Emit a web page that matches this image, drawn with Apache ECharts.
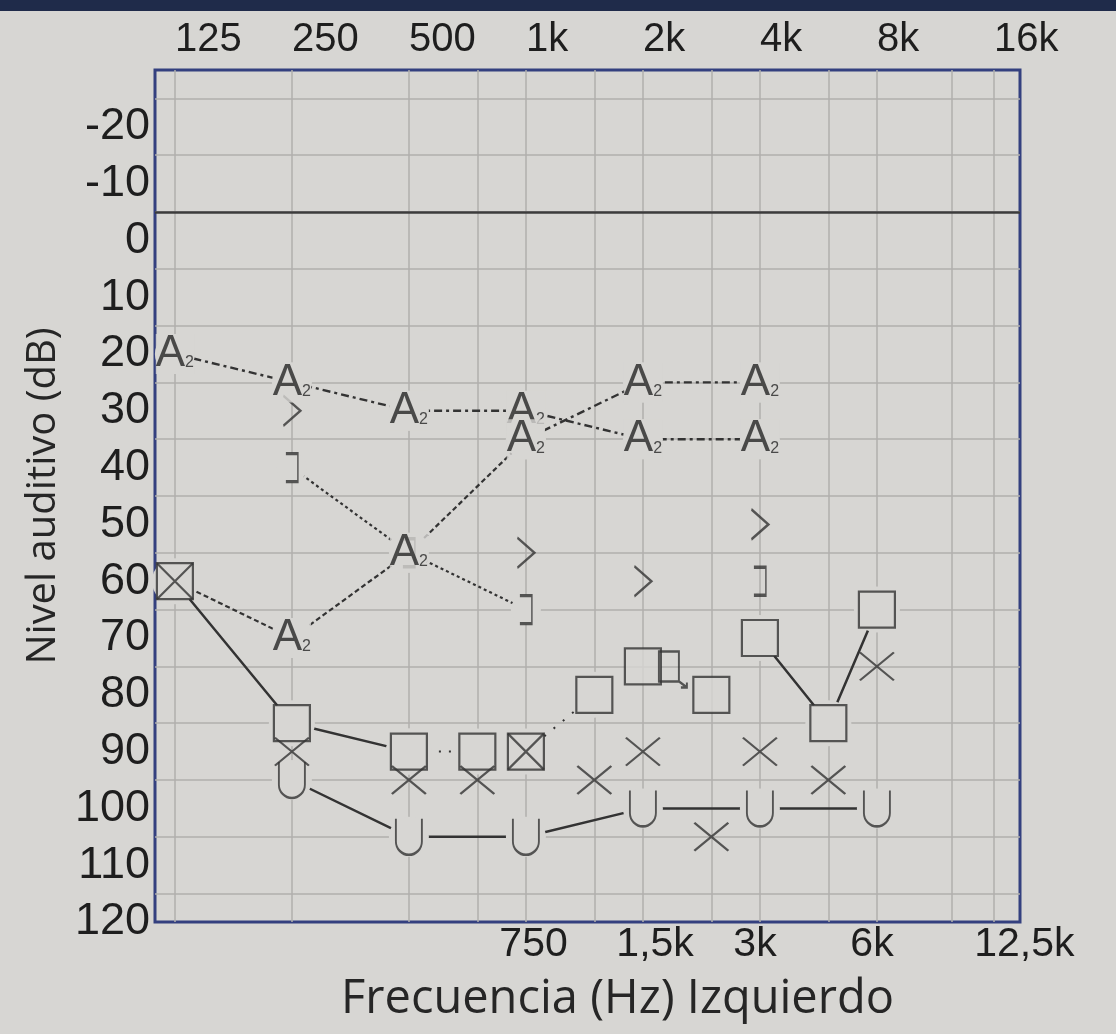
<!DOCTYPE html>
<html>
<head>
<meta charset="utf-8">
<title>Audiograma - Izquierdo</title>
<script src="https://cdn.jsdelivr.net/npm/echarts@6/dist/echarts.min.js"></script>
<style>
  html, body { margin: 0; padding: 0; background: #d7d6d3; }
  #main { width: 1116px; height: 1034px; }
</style>
</head>
<body>
<div id="main"></div>
<script>
// frecuencias (Hz) donde hay marcas
const frecuencias = [125, 250, 500, 750, 1000, 1500, 2000, 3000, 4000, 6000, 8000];

// etiquetas del eje de frecuencias
const ticksArriba = [125, 250, 500, 1000, 2000, 4000, 8000, 16000];
const textosArriba = ['125', '250', '500', '1k', '2k', '4k', '8k', '16k'];
const ticksAbajo = [750, 1500, 3000, 6000, 12500];
const textosAbajo = ['750', '1,5k', '3k', '6k', '12,5k'];
const lineasVerticales = [125, 250, 500, 750, 1000, 1500, 2000, 3000, 4000, 6000, 8000, 12500, 16000];
const lineasHorizontales = [-25, -15, -5, 5, 15, 25, 35, 45, 55, 65, 75, 85, 95, 105, 115];

// via aerea (dB), una por frecuencia
const cuadrados = [60, 85, 90, 90, 90, 80, 75, 80, 70, 85, 65];
const cruces = [60, 90, 95, 95, 90, 95, 90, 105, 90, 95, 75];

// via osea
const freqU = [250, 500, 1000, 2000, 4000, 8000];
const oseaU = [95, 105, 105, 100, 100, 100];

const freqMayor = [250, 1000, 2000, 4000];
const mayor = [30, 55, 60, 50];

const freqCorchete = [250, 500, 1000, 4000];
const corchete = [40, 55, 65, 60];

// campo libre / audifono (A2)
const freqA = [125, 250, 500, 1000, 2000, 4000];
const aSuperior = [20, 25, 30, 30, 35, 35];
const aInferior = [60, 70, 55, 35, 25, 25];

// sin respuesta
const freqSinResp = [2000];
const sinResp = [75];

const PAPEL = '#d7d6d3';
const TINTA = '#333333';
const AZUL = '#34407f';
const FUENTE = 'Liberation Sans';
const XMIN = -0.17;
const XMAX = 7.223;

const oct = f => Math.log2(f / 125);
const pts = (fs, vs) => fs.map((f, i) => [oct(f), vs[i]]);
const nombre = (lista, textos) => v => {
  const i = lista.findIndex(f => Math.abs(oct(f) - v) < 1e-6);
  return i < 0 ? '' : textos[i];
};

const SYM = {
  cuadro: 'path://M0,0H36V36H0Z',
  cruz: 'path://M0,0L34,28M34,0L0,28',
  cruzCuadro: 'path://M0,0L36,36M36,0L0,36',
  u: 'path://M0,0V22A13,13,0,0,0,26,22V0',
  mayor: 'path://M0,0L16,14L0,28',
  corchete: 'path://M0,0H12V28H0',
  sinResp: 'path://M0,0H20V30H0ZM20,30L28,36M22,36H28V31'
};

const symStyle = (fill) => ({ color: fill, borderColor: TINTA, borderWidth: 2.2 });

// tramo de linea que une marcas (con halo para dejar hueco junto a la marca)
function tramo(data, type, halo, width) {
  return {
    type: 'line', data: data, z: 2, silent: true,
    symbol: 'circle', symbolSize: halo, showSymbol: true,
    itemStyle: { color: PAPEL, borderWidth: 0 },
    lineStyle: { color: TINTA, width: width || 2, type: type },
    emphasis: { disabled: true }
  };
}

const pCuad = pts(frecuencias, cuadrados);
const pCruz = pts(frecuencias, cruces);
const pU = pts(freqU, oseaU);
const pSup = pts(freqA, aSuperior);
const pInf = pts(freqA, aInferior);
const pCorch = pts(freqCorchete, corchete);

const etiquetaA = {
  show: true, position: 'inside',
  formatter: '{a|A}{s|2}',
  backgroundColor: PAPEL, padding: [-2, 0],
  rich: {
    a: { fontSize: 44, fontFamily: FUENTE, color: '#262626' },
    s: { fontSize: 16, fontFamily: FUENTE, color: '#262626', padding: [18, 0, 0, 0] }
  }
};

const chart = echarts.init(document.getElementById('main'), null, { renderer: 'canvas' });

const option = {
  backgroundColor: PAPEL,
  animation: false,
  grid: {
    left: 155, right: 96, top: 70, bottom: 112,
    show: true, borderColor: AZUL, borderWidth: 3, backgroundColor: 'transparent'
  },
  graphic: [
    { type: 'rect', left: 0, top: 0, shape: { width: 1116, height: 11 }, style: { fill: '#1f2b4a' } }
  ],
  xAxis: [
    {
      type: 'value', position: 'top', min: XMIN, max: XMAX,
      axisLine: { show: false }, axisTick: { show: false }, splitLine: { show: false },
      axisLabel: {
        customValues: ticksArriba.map(oct), formatter: nombre(ticksArriba, textosArriba),
        align: 'left', margin: 10, fontSize: 40, fontFamily: FUENTE, color: '#1e1e1e'
      }
    },
    {
      type: 'value', position: 'bottom', min: XMIN, max: XMAX,
      axisLine: { show: false }, axisTick: { show: false }, splitLine: { show: false },
      axisLabel: {
        customValues: ticksAbajo.map(oct), formatter: nombre(ticksAbajo, textosAbajo),
        align: 'left', margin: 2, padding: [0, 0, 0, 22], fontSize: 41, fontFamily: FUENTE, color: '#1e1e1e'
      },
      name: 'Frecuencia (Hz) Izquierdo', nameLocation: 'middle', nameGap: 54,
      nameTextStyle: { fontSize: 47, fontFamily: 'Open Sans', color: '#262626', padding: [0, 0, 0, 60] }
    },
    {
      type: 'value', position: 'bottom', min: XMIN, max: XMAX, show: true,
      axisLine: { show: false }, axisLabel: { show: false },
      axisTick: { show: false, customValues: lineasVerticales.map(oct) },
      splitLine: { show: true, lineStyle: { color: '#b0afac', width: 1.5 } }
    }
  ],
  yAxis: [
    {
      type: 'value', inverse: true, min: -30, max: 120, interval: 10,
      axisLine: { show: false }, axisTick: { show: false }, splitLine: { show: false },
      axisLabel: {
        showMinLabel: false, margin: 5, fontSize: 45, fontFamily: FUENTE, color: '#1e1e1e'
      },
      name: 'Nivel auditivo (dB)', nameLocation: 'middle', nameGap: 88,
      nameTextStyle: { fontSize: 40, fontFamily: 'Open Sans', color: '#262626' }
    },
    {
      type: 'value', inverse: true, min: -30, max: 120, position: 'left',
      axisLine: { show: false }, axisLabel: { show: false },
      axisTick: { show: false, customValues: lineasHorizontales },
      splitLine: { show: true, lineStyle: { color: '#b0afac', width: 1.5 } }
    }
  ],
  series: [
    // linea gruesa de referencia
    {
      type: 'line', data: [], z: 1, silent: true,
      markLine: {
        silent: true, symbol: 'none', label: { show: false },
        lineStyle: { color: '#3c3c3c', width: 2.5, type: 'solid' },
        data: [{ yAxis: -5 }]
      }
    },
    // uniones
    tramo(pCuad.slice(0, 3), 'solid', 46, 2.5),
    tramo(pCuad.slice(2, 4), [2, 8], 46),
    tramo(pCuad.slice(4, 6), [2, 10], 46),
    tramo(pCuad.slice(8, 11), 'solid', 46, 2.5),
    tramo(pU, 'solid', 40, 2.5),
    tramo(pCorch.slice(0, 3), [3, 3], 30, 2.2),
    tramo(pInf.slice(0, 4), [5, 3], 40, 2.2),
    tramo(pInf.slice(3), [8, 4, 3, 4], 40, 2.4),
    tramo(pSup, [8, 4, 3, 4], 40, 2.4),

    // marcas
    {
      name: 'Cuadro', type: 'scatter', z: 5, silent: true,
      data: pCuad, symbol: SYM.cuadro, symbolSize: 36, symbolKeepAspect: true,
      itemStyle: symStyle(PAPEL)
    },
    {
      name: 'Cruz', type: 'scatter', z: 6, silent: true,
      data: pCruz.map((p, i) => cruces[i] === cuadrados[i]
        ? { value: p, symbol: SYM.cruzCuadro, symbolSize: 36 }
        : { value: p, symbol: SYM.cruz, symbolSize: [34, 28] }),
      itemStyle: symStyle('transparent')
    },
    {
      name: 'Sin respuesta', type: 'scatter', z: 5, silent: true,
      data: pts(freqSinResp, sinResp), symbol: SYM.sinResp, symbolSize: [28, 36],
      symbolOffset: [30, 3], itemStyle: symStyle('transparent')
    },
    {
      name: 'U', type: 'scatter', z: 5, silent: true,
      data: pU, symbol: SYM.u, symbolSize: [26, 36], itemStyle: symStyle('transparent')
    },
    {
      name: 'Mayor', type: 'scatter', z: 5, silent: true,
      data: pts(freqMayor, mayor), symbol: SYM.mayor, symbolSize: [17, 30],
      itemStyle: symStyle('transparent')
    },
    {
      name: 'Corchete', type: 'scatter', z: 5, silent: true,
      data: pCorch, symbol: SYM.corchete, symbolSize: [12, 28],
      itemStyle: symStyle('transparent')
    },
    {
      name: 'A superior', type: 'scatter', z: 7, silent: true,
      data: pSup, symbol: 'circle', symbolSize: 1, itemStyle: { color: 'transparent' },
      label: etiquetaA
    },
    {
      name: 'A inferior', type: 'scatter', z: 7, silent: true,
      data: pInf.map((p, i) => i === 0 ? { value: p, label: { show: false } } : p),
      symbol: 'circle', symbolSize: 1, itemStyle: { color: 'transparent' },
      label: etiquetaA
    }
  ]
};

chart.setOption(option);
</script>
</body>
</html>
